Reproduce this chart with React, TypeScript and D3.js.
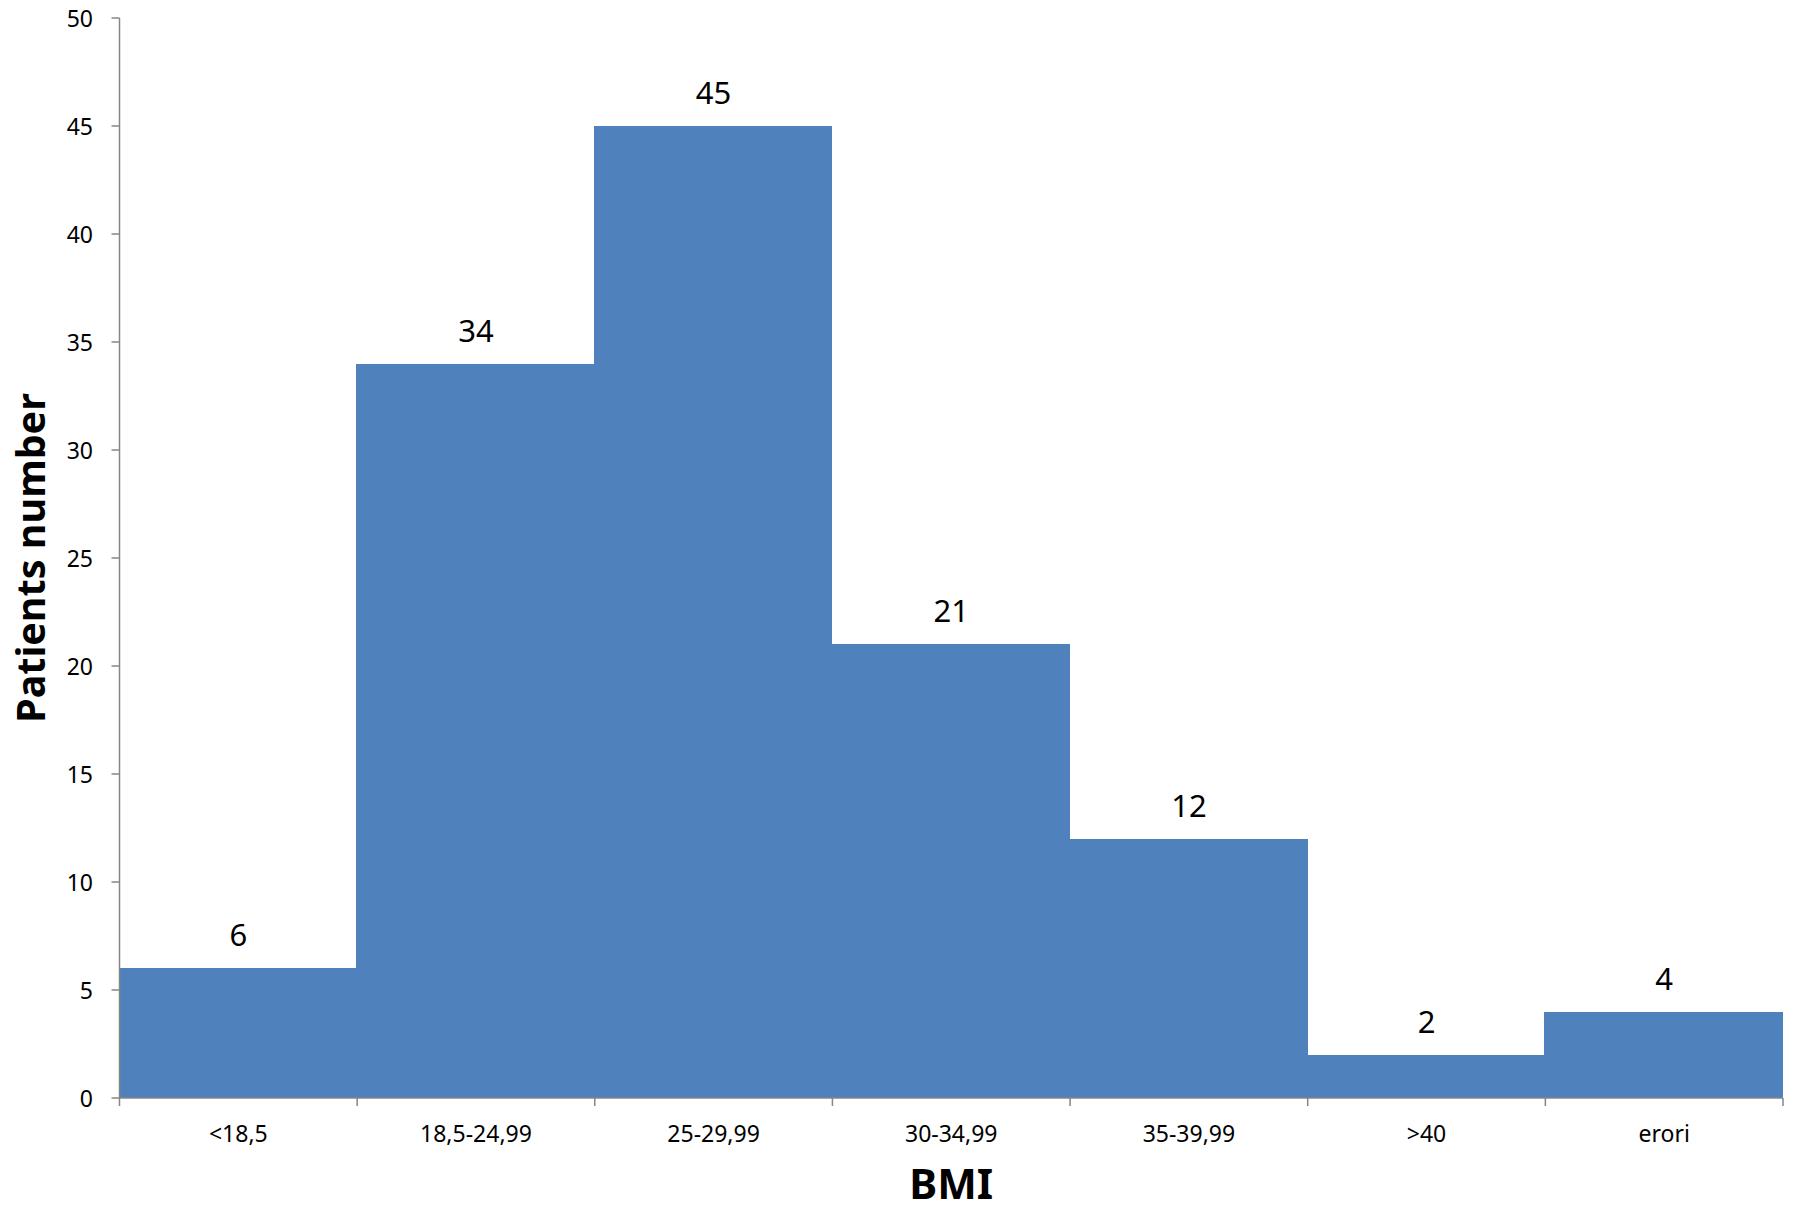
import React from "react";
import * as d3 from "d3";

const categories = ["<18,5", "18,5-24,99", "25-29,99", "30-34,99", "35-39,99", ">40", "erori"];
const patients = [6, 34, 45, 21, 12, 2, 4];
const yTicks = [0, 5, 10, 15, 20, 25, 30, 35, 40, 45, 50];

const W = 1796;
const H = 1207;
const left = 119.5;
const right = 1783;
const top = 18;
const bottom = 1098;
const FONT = "'Noto Sans', 'Open Sans', sans-serif";

export default function App() {
  const x = d3.scaleBand<string>().domain(categories).range([left, right]).padding(0);
  const y = d3.scaleLinear().domain([0, 50]).range([bottom, top]);
  const bw = x.bandwidth();
  const boundaries = categories.map((c) => x(c)!).concat([right]);

  return (
    <svg
      width={W}
      height={H}
      style={{ position: "absolute", left: 0, top: 0, background: "#fff" }}
      fontFamily={FONT}
    >
      {categories.map((c, i) => (
        <rect
          key={c}
          x={x(c)! - (i > 0 ? 1 : 0)}
          y={y(patients[i])}
          width={bw + (i > 0 ? 1 : 0)}
          height={bottom - y(patients[i])}
          fill="#4F81BD"
          shapeRendering="crispEdges"
        />
      ))}
      {categories.map((c, i) => (
        <text
          key={"l" + c}
          x={x(c)! + bw / 2}
          y={y(patients[i]) - 34}
          textAnchor="middle"
          dominantBaseline="central"
          fontSize={31}
          fill="#000"
        >
          {patients[i]}
        </text>
      ))}
      {/* y axis */}
      <line x1={left} x2={left} y1={top} y2={bottom} stroke="#868686" strokeWidth={1.5} />
      {yTicks.map((t) => (
        <g key={"yt" + t}>
          <line x1={left - 8} x2={left} y1={y(t)} y2={y(t)} stroke="#868686" strokeWidth={1.5} />
          <text
            x={93}
            y={y(t)}
            textAnchor="end"
            dominantBaseline="central"
            fontSize={23}
            fill="#000"
          >
            {t}
          </text>
        </g>
      ))}
      {/* x axis */}
      <line x1={left} x2={right} y1={bottom} y2={bottom} stroke="#868686" strokeWidth={1.5} />
      {boundaries.map((b, i) => (
        <line key={"xt" + i} x1={b} x2={b} y1={bottom} y2={bottom + 8} stroke="#868686" strokeWidth={1.5} />
      ))}
      {categories.map((c) => (
        <text
          key={"xl" + c}
          x={x(c)! + bw / 2}
          y={1133}
          textAnchor="middle"
          dominantBaseline="central"
          fontSize={23}
          fill="#000"
        >
          {c}
        </text>
      ))}
      <text
        x={(left + right) / 2}
        y={1182}
        textAnchor="middle"
        dominantBaseline="central"
        fontSize={42}
        fontWeight="bold"
        fill="#000"
      >
        BMI
      </text>
      <text
        transform={`translate(30, ${(top + bottom) / 2}) rotate(-90)`}
        textAnchor="middle"
        dominantBaseline="central"
        fontSize={39.5}
        fontWeight="bold"
        fill="#000"
      >
        Patients number
      </text>
    </svg>
  );
}
